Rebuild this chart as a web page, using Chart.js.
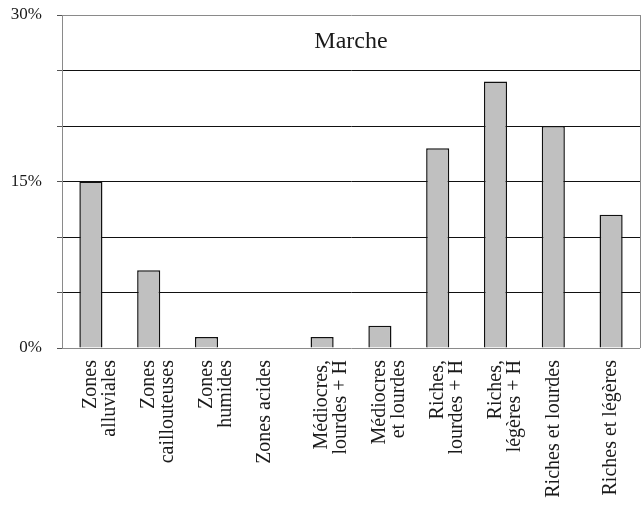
<!DOCTYPE html>
<html>
<head>
<meta charset="utf-8">
<script src="https://cdn.jsdelivr.net/npm/chart.js@4"></script>
<style>
  html, body { margin: 0; padding: 0; background: #fff; }
  #wrap { width: 644px; height: 508px; position: relative; }
</style>
</head>
<body>
<div id="wrap"><canvas id="marche-chart"></canvas></div>
<script>
const categories = [
    ["Zones", "alluviales"],
    ["Zones", "caillouteuses"],
    ["Zones", "humides"],
    "Zones acides",
    ["Médiocres,", "lourdes + H"],
    ["Médiocres", "et lourdes"],
    ["Riches,", "lourdes + H"],
    ["Riches,", "légères + H"],
    "Riches et lourdes",
    "Riches et légères"
]
const marcheValues = [15, 7, 1, 0, 1, 2, 18, 24, 20, 12]
const yTickLabels = [0, 15, 30]
const chartTitle = "Marche"

const serif = "'Liberation Serif', 'Times New Roman', serif"

// title inside the plot + right border
const insideTitle = {
    id: 'insideTitle',
    beforeDatasetsDraw(chart) {
        const {ctx, chartArea} = chart
        ctx.save()
        ctx.strokeStyle = "#8a8a8a"
        ctx.lineWidth = 1
        ctx.beginPath()
        ctx.moveTo(chartArea.right + 0.5, chartArea.top)
        ctx.lineTo(chartArea.right + 0.5, chartArea.bottom)
        ctx.stroke()
        ctx.fillStyle = "#1a1a1a"
        ctx.font = "24px " + serif
        ctx.textAlign = "center"
        ctx.textBaseline = "alphabetic"
        ctx.fillText(chartTitle, (chartArea.left + chartArea.right) / 2, chartArea.top + 33)
        ctx.restore()
    }
}

new Chart(document.getElementById("marche-chart"), {
    type: 'bar',
    data: {
        labels: categories,
        datasets: [{
            label: chartTitle,
            data: marcheValues,
            backgroundColor: "#c0c0c0",
            borderColor: "#111",
            borderWidth: 1.5,
            barPercentage: 0.4,
            categoryPercentage: 1
        }]
    },
    options: {
        maintainAspectRatio: false,
        responsive: true,
        animation: false,
        layout: { padding: { top: 15, right: 4, left: 0, bottom: 0 } },
        plugins: {
            legend: { display: false },
            tooltip: { enabled: false }
        },
        scales: {
            x: {
                grid: { display: false, drawTicks: false },
                border: { display: false },
                ticks: {
                    minRotation: 90,
                    maxRotation: 90,
                    autoSkip: false,
                    padding: 12,
                    color: "#1a1a1a",
                    font: { family: serif, size: 20, lineHeight: 0.95 }
                },
                afterFit(scale) {
                    scale.height = 160
                    scale.paddingLeft = 0
                    scale.paddingRight = 0
                }
            },
            y: {
                min: 0,
                max: 30,
                grid: {
                    color: (c) => (c.tick.value === 0 || c.tick.value === 30) ? "#8a8a8a" : "#111",
                    lineWidth: 1,
                    drawTicks: true,
                    tickLength: 5,
                    tickColor: "#555"
                },
                border: { color: "#8a8a8a", width: 1 },
                ticks: {
                    stepSize: 5,
                    padding: 15,
                    color: "#1a1a1a",
                    font: { family: serif, size: 17 },
                    callback: (v) => yTickLabels.includes(v) ? v + "%" : ""
                },
                afterFit(scale) {
                    scale.width = 62
                    scale.paddingTop = 0
                    scale.paddingBottom = 0
                }
            }
        }
    },
    plugins: [insideTitle]
})
</script>
</body>
</html>
